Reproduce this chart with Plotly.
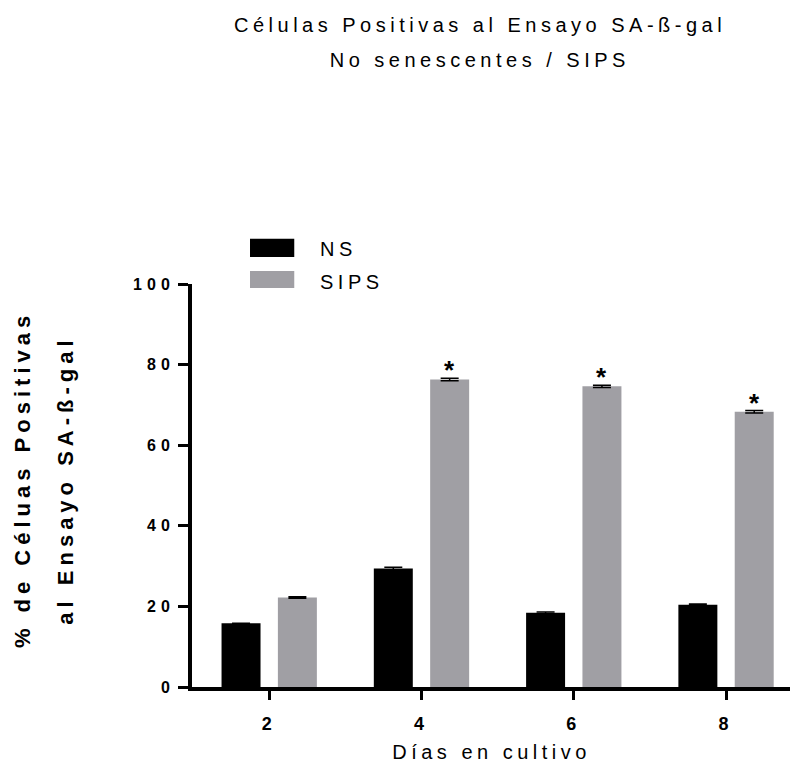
import plotly.graph_objects as go

days = ["2", "4", "6", "8"]
ns_values = [15.8, 29.4, 18.4, 20.4]
sips_values = [22.2, 76.3, 74.6, 68.3]
ns_err = [None, 0.3, 0.2, 0.2]
sips_err = [0.2, 0.3, 0.3, 0.3]
significant = [False, True, True, True]
series_names = ["NS", "SIPS"]
colors = ["#000000", "#a09fa4"]

FONT = "Liberation Sans, Arial, sans-serif"
xpos = list(range(len(days)))
W = 0.256
OFF = 0.185

fig = go.Figure()
fig.add_trace(go.Bar(
    x=xpos, y=ns_values, name=series_names[0], width=W, offset=-OFF - W / 2,
    marker=dict(color=colors[0], line=dict(width=0)),
    error_y=dict(type="data", array=ns_err, color="#000000", thickness=1.5, width=9),
    showlegend=False,
))
fig.add_trace(go.Bar(
    x=xpos, y=sips_values, name=series_names[1], width=W, offset=OFF - W / 2,
    marker=dict(color=colors[1], line=dict(width=0)),
    error_y=dict(type="data", array=sips_err, color="#000000", thickness=1.5, width=9),
    showlegend=False,
))

annotations = []
for i, (v, e, s) in enumerate(zip(sips_values, sips_err, significant)):
    if s:
        annotations.append(dict(
            x=i + OFF, y=v + e, xref="x", yref="y", text="<b>*</b>", showarrow=False,
            yanchor="bottom", yshift=-9, font=dict(family=FONT, size=26, color="black"),
        ))

# Title lines
annotations.append(dict(x=0.4816, y=1.6427, xref="paper", yref="paper", text="Células Positivas al Ensayo SA-ß-gal",
                        showarrow=False, xanchor="center", yanchor="middle",
                        font=dict(family=FONT, size=20, color="black")))
annotations.append(dict(x=0.4816, y=1.556, xref="paper", yref="paper", text="No senescentes / SIPS",
                        showarrow=False, xanchor="center", yanchor="middle",
                        font=dict(family=FONT, size=20, color="black")))
# Y axis title lines
annotations.append(dict(x=-0.283, y=0.514, xref="paper", yref="paper", text="<b>% de Céluas Positivas</b>",
                        showarrow=False, textangle=-90, xanchor="center", yanchor="middle",
                        font=dict(family=FONT, size=22, color="black")))
annotations.append(dict(x=-0.211, y=0.514, xref="paper", yref="paper", text="<b>al Ensayo SA-ß-gal</b>",
                        showarrow=False, textangle=-90, xanchor="center", yanchor="middle",
                        font=dict(family=FONT, size=22, color="black")))
# X axis title
annotations.append(dict(x=0.5, y=-0.161, xref="paper", yref="paper", text="Días en cultivo",
                        showarrow=False, xanchor="center", yanchor="middle",
                        font=dict(family=FONT, size=20, color="black")))

# Legend
shapes = []
leg_rows = [(1.067, 1.112, 1.087), (0.990, 1.032, 1.005)]
for name, col, (y0, y1, yt) in zip(series_names, colors, leg_rows):
    shapes.append(dict(type="rect", xref="paper", yref="paper", x0=0.097, x1=0.171, y0=y0, y1=y1,
                       fillcolor=col, line=dict(width=0)))
    annotations.append(dict(x=0.211, y=yt, xref="paper", yref="paper", text=name, showarrow=False,
                            xanchor="left", yanchor="middle", align="left",
                            font=dict(family=FONT, size=20, color="black")))

fig.update_layout(
    width=791, height=765,
    margin=dict(l=192, r=1, t=284, b=78),
    paper_bgcolor="white", plot_bgcolor="white",
    barmode="overlay",
    showlegend=False,
    annotations=annotations,
    shapes=shapes,
    font=dict(family=FONT, color="black"),
)
fig.update_xaxes(
    range=[-0.507, 3.42], tickmode="array", tickvals=xpos, ticktext=[f"<b>{d}</b>" for d in days],
    showline=True, linecolor="black", linewidth=4, ticks="outside", ticklen=9, tickwidth=3,
    tickcolor="black", showgrid=False, zeroline=False, ticklabelstandoff=8,
    tickfont=dict(family=FONT, size=18, color="black"),
)
fig.update_yaxes(
    range=[0, 100], tickmode="array", tickvals=[0, 20, 40, 60, 80, 100],
    ticktext=[f"<b>{v}</b>" for v in [0, 20, 40, 60, 80, 100]],
    showline=True, linecolor="black", linewidth=4, ticks="outside", ticklen=10, tickwidth=3,
    tickcolor="black", showgrid=False, zeroline=False,
    tickfont=dict(family=FONT, size=16, color="black"),
)

post = """
document.body.style.margin = '0';
document.body.style.padding = '0';
function _ls(){
  var gd = document.getElementById('{plot_id}');
  gd.querySelectorAll('.annotation-text').forEach(function(e){
    var t = e.textContent;
    if (t === '*') return;
    var fs = parseFloat(e.style.fontSize || '0');
    e.style.letterSpacing = (fs >= 21 ? '5px' : (fs >= 20 ? '4.5px' : '4px'));
  });
  gd.querySelectorAll('.xtick text, .ytick text').forEach(function(e){ e.style.letterSpacing = '5px'; });
}
_ls();
var _gd = document.getElementById('{plot_id}');
if (_gd && _gd.on) { _gd.on('plotly_afterplot', _ls); }
"""
fig.write_html("out.html", post_script=post, config={"displayModeBar": False})
